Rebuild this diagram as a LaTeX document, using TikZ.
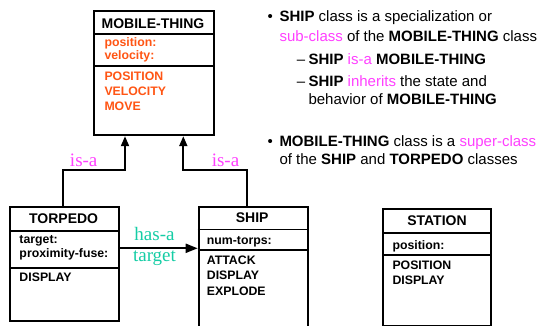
\documentclass[tikz,border=0pt]{standalone}
\usepackage{fontspec}
\setmainfont{Liberation Sans}
\newfontfamily\seriffont{Liberation Serif}
\usetikzlibrary{arrows.meta}
\definecolor{orng}{RGB}{255,85,20}
\definecolor{mgnt}{RGB}{255,64,255}
\definecolor{tealc}{RGB}{20,205,165}
\begin{document}
\begin{tikzpicture}[x=1pt,y=-1pt,
  classbox/.style={draw, line width=1.9pt, anchor=north west, inner sep=0pt},
  sepline/.style={line width=1.9pt},
  conn/.style={line width=1.9pt},
  hdr/.style={font=\bfseries\fontsize{14}{16}\selectfont, anchor=base, inner sep=0pt},
  att/.style={font=\bfseries\fontsize{12.3}{14}\selectfont, anchor=base west, inner sep=0pt},
  blt/.style={font=\fontsize{15}{17}\selectfont, anchor=base west, inner sep=0pt},
  lbl/.style={font=\seriffont\fontsize{19}{21}\selectfont, anchor=base, inner sep=0pt},
  tip/.style={-{Triangle[length=10pt,width=8pt]}}
]
\useasboundingbox (0,0) rectangle (542,326);
\fill[white] (0,0) rectangle (542,326);

% MOBILE-THING
\node[classbox, minimum width=119.4pt, minimum height=124.3pt] (mt) at (93.3,10) {};
\draw[sepline] (mt.west |- 0,34) -- (mt.east |- 0,34);
\draw[sepline] (mt.west |- 0,65.7) -- (mt.east |- 0,65.7);
\node[hdr] (mth) at (153,28.3) {MOBILE-THING};
\node[att, text=orng] (mta1) at (104.3,46.7) {position:};
\node[att, text=orng] (mta2) at (104.3,60) {velocity:};
\node[att, text=orng] (mtm1) at (104.3,81) {POSITION};
\node[att, text=orng] (mtm2) at (104.3,95.7) {VELOCITY};
\node[att, text=orng] (mtm3) at (104.3,111) {MOVE};

% TORPEDO
\node[classbox, minimum width=109.3pt, minimum height=114pt] (tor) at (9,206) {};
\draw[sepline] (tor.west |- 0,230.7) -- (tor.east |- 0,230.7);
\draw[sepline] (tor.west |- 0,267.7) -- (tor.east |- 0,267.7);
\node[hdr] (torh) at (63.6,223.3) {TORPEDO};
\node[att] (tora1) at (19.3,243.3) {target:};
\node[att] (tora2) at (19.3,257.3) {proximity-fuse:};
\node[att] (torm1) at (19.3,281.7) {DISPLAY};

% SHIP
\node[classbox, minimum width=109pt, minimum height=130pt] (ship) at (197.7,206.5) {};
\draw[sepline] (ship.west |- 0,229.5) -- (ship.east |- 0,229.5);
\draw[sepline] (ship.west |- 0,250) -- (ship.east |- 0,250);
\node[hdr] (shiph) at (252.2,222.3) {SHIP};
\node[att] (shipa1) at (206.7,244.3) {num-torps:};
\node[att] (shipm1) at (206.7,265) {ATTACK};
\node[att] (shipm2) at (206.7,280) {DISPLAY};
\node[att] (shipm3) at (206.7,295.7) {EXPLODE};

% STATION
\node[classbox, minimum width=107.7pt, minimum height=117.3pt] (sta) at (382.3,207.7) {};
\draw[sepline] (sta.west |- 0,233.3) -- (sta.east |- 0,233.3);
\draw[sepline] (sta.west |- 0,255) -- (sta.east |- 0,255);
\node[hdr] (stah) at (437,226) {STATION};
\node[att] (staa1) at (392.3,249.3) {position:};
\node[att] (stam1) at (392.3,270) {POSITION};
\node[att] (stam2) at (392.3,285) {DISPLAY};

% connectors
\coordinate (jl) at (63.3,170);
\coordinate (jr) at (247.3,170);
\draw[conn, tip] (tor.north -| jl) -- (jl) -| (mt.south -| 125,0);
\draw[conn, tip] (ship.north -| jr) -- (jr) -| (mt.south -| 183.3,0);
\draw[conn, -{Triangle[length=12pt,width=9pt]}] (tor.east |- 0,248.3) -- (ship.west |- 0,248.3);

\node[lbl, text=mgnt] (isa1) at (83.7,166.7) {is-a};
\node[lbl, text=mgnt] (isa2) at (225.5,166.7) {is-a};
\node[lbl, text=tealc] (hasa) at (154.5,240.7) {has-a};
\node[lbl, text=tealc] (hast) at (154.5,261.7) {target};

% bullet text
\node[blt] (b1) at (267.3,21.7) {•};
\node[blt] (l1) at (279.3,21.7) {\textbf{SHIP} class is a specialization or};
\node[blt] (l2) at (279.3,41.7) {\textcolor{mgnt}{sub-class} of the \textbf{MOBILE-THING} class};
\node[blt] (d1) at (296.7,65) {–};
\node[blt] (l3) at (308.3,65) {\textbf{SHIP} \textcolor{mgnt}{is-a} \textbf{MOBILE-THING}};
\node[blt] (d2) at (296.7,86.7) {–};
\node[blt] (l4) at (308.3,86.7) {\textbf{SHIP} \textcolor{mgnt}{inherits} the state and};
\node[blt] (l5) at (308.3,105) {behavior of \textbf{MOBILE-THING}};
\node[blt] (b2) at (267.3,146.7) {•};
\node[blt] (l6) at (279.3,146.7) {\textbf{MOBILE-THING} class is a \textcolor{mgnt}{super-class}};
\node[blt] (l7) at (279.3,165) {of the \textbf{SHIP} and \textbf{TORPEDO} classes};
\end{tikzpicture}
\end{document}
